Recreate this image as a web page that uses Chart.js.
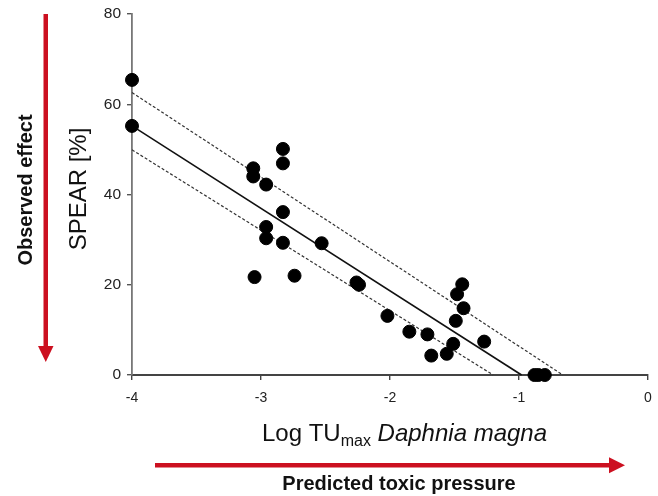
<!DOCTYPE html>
<html>
<head>
<meta charset="utf-8">
<script src="https://cdn.jsdelivr.net/npm/chart.js@4.4.1/dist/chart.umd.min.js"></script>
<style>
html,body{margin:0;padding:0;background:#fff;}
canvas{display:block;}
</style>
</head>
<body>
<canvas id="c" width="658" height="496"></canvas>
<script>
// ---- data ----
const pointsX = [-4, -4, -3.06, -3.06, -2.96, -2.83, -2.83, -2.83, -2.96, -2.96, -2.83, -2.53, -3.05, -2.74, -2.26, -2.24, -2.02, -1.85, -1.71, -1.68, -1.56, -1.51, -1.49, -1.43, -1.48, -1.44, -1.27, -0.88, -0.85, -0.80];
const pointsY = [65.4, 55.2, 45.8, 44.0, 42.2, 50.1, 46.9, 36.1, 32.8, 30.3, 29.3, 29.2, 21.7, 22.0, 20.5, 20.0, 13.1, 9.6, 9.0, 4.3, 4.7, 6.9, 12.0, 14.8, 17.9, 20.1, 7.4, 0, 0, 0];
const fitX = [-4, -0.98];
const fitY = [55.2, 0];
const upperX = [-4, -0.66];
const upperY = [62.6, 0];
const lowerX = [-4, -1.2];
const lowerY = [49.9, 0];
const xTicks = [-4, -3, -2, -1, 0];
const yTicks = [0, 20, 40, 60, 80];

const zip = (xs, ys) => xs.map((x, i) => ({x: x, y: ys[i]}));
const FONT = '"Liberation Sans", Arial, Helvetica, sans-serif';
const RED = '#cc1020';

const annotations = {
  id: 'annotations',
  afterDraw(chart) {
    const ctx = chart.ctx;
    ctx.save();
    // Y title
    ctx.fillStyle = '#111';
    ctx.font = '24px ' + FONT;
    ctx.textAlign = 'center';
    ctx.textBaseline = 'middle';
    ctx.translate(79, 189);
    ctx.rotate(-Math.PI / 2);
    ctx.fillText('SPEAR [%]', 0, 0);
    ctx.restore();

    // X title with subscript and italics
    ctx.save();
    ctx.fillStyle = '#111';
    ctx.textBaseline = 'alphabetic';
    ctx.textAlign = 'left';
    const f1 = '24px ' + FONT, f2 = '16px ' + FONT, f3 = 'italic 24px ' + FONT;
    ctx.font = f1; const w1 = ctx.measureText('Log TU').width;
    ctx.font = f2; const w2 = ctx.measureText('max').width;
    ctx.font = f3; const w3 = ctx.measureText(' Daphnia magna').width;
    let x0 = 404.5 - (w1 + w2 + w3) / 2;
    const base = 441;
    ctx.font = f1; ctx.fillText('Log TU', x0, base); x0 += w1;
    ctx.font = f2; ctx.fillText('max', x0, base + 5); x0 += w2;
    ctx.font = f3; ctx.fillText(' Daphnia magna', x0, base);
    ctx.restore();

    // vertical red arrow
    ctx.save();
    ctx.fillStyle = RED;
    ctx.fillRect(43.5, 14, 4.5, 333);
    ctx.beginPath();
    ctx.moveTo(38, 346);
    ctx.lineTo(53.5, 346);
    ctx.lineTo(45.75, 362);
    ctx.closePath();
    ctx.fill();
    // horizontal red arrow
    ctx.fillRect(155, 463, 455, 4.5);
    ctx.beginPath();
    ctx.moveTo(609, 457.2);
    ctx.lineTo(609, 473.2);
    ctx.lineTo(625, 465.2);
    ctx.closePath();
    ctx.fill();

    // arrow labels
    ctx.fillStyle = '#111';
    ctx.font = 'bold 20px ' + FONT;
    ctx.textAlign = 'center';
    ctx.textBaseline = 'alphabetic';
    ctx.fillText('Predicted toxic pressure', 399, 490);
    ctx.translate(32, 190);
    ctx.rotate(-Math.PI / 2);
    ctx.fillText('Observed effect', 0, 0);
    ctx.restore();
  }
};

new Chart(document.getElementById('c'), {
  type: 'scatter',
  data: {
    datasets: [
      {
        label: 'sites',
        data: zip(pointsX, pointsY),
        backgroundColor: '#000',
        borderColor: '#000',
        pointRadius: 6.5,
        pointHoverRadius: 6.5,
        clip: false
      },
      {
        label: 'fit',
        type: 'line',
        data: zip(fitX, fitY),
        borderColor: '#111',
        borderWidth: 1.6,
        pointRadius: 0,
        fill: false,
        clip: false
      },
      {
        label: 'upper',
        type: 'line',
        data: zip(upperX, upperY),
        borderColor: '#333',
        borderWidth: 1.2,
        borderDash: [3, 2],
        pointRadius: 0,
        fill: false,
        clip: false
      },
      {
        label: 'lower',
        type: 'line',
        data: zip(lowerX, lowerY),
        borderColor: '#333',
        borderWidth: 1.2,
        borderDash: [3, 2],
        pointRadius: 0,
        fill: false,
        clip: false
      }
    ]
  },
  options: {
    responsive: false,
    animation: false,
    devicePixelRatio: 1,
    layout: {padding: {left: 0, right: 10, top: 14, bottom: 0}},
    plugins: {legend: {display: false}, tooltip: {enabled: false}},
    scales: {
      x: {
        type: 'linear',
        min: -4, max: 0,
        afterBuildTicks: (s) => { s.ticks = xTicks.map(v => ({value: v})); },
        afterFit: (s) => { s.height = 121; s.paddingLeft = 0; s.paddingRight = 0; },
        grid: {drawOnChartArea: false, drawTicks: true, tickLength: 5, color: '#444', lineWidth: 1.4},
        border: {color: '#444', width: 2},
        ticks: {color: '#222', font: {family: FONT, size: 14}, padding: 10, maxRotation: 0}
      },
      y: {
        type: 'linear',
        min: 0, max: 80,
        afterBuildTicks: (s) => { s.ticks = yTicks.map(v => ({value: v})); },
        afterFit: (s) => { s.width = 132; s.paddingTop = 0; s.paddingBottom = 0; },
        grid: {drawOnChartArea: false, drawTicks: true, tickLength: 5, color: '#555', lineWidth: 1.4},
        border: {color: '#777', width: 1.8},
        ticks: {color: '#222', font: {family: FONT, size: 15.5}, padding: 6}
      }
    }
  },
  plugins: [annotations]
});
</script>
</body>
</html>
